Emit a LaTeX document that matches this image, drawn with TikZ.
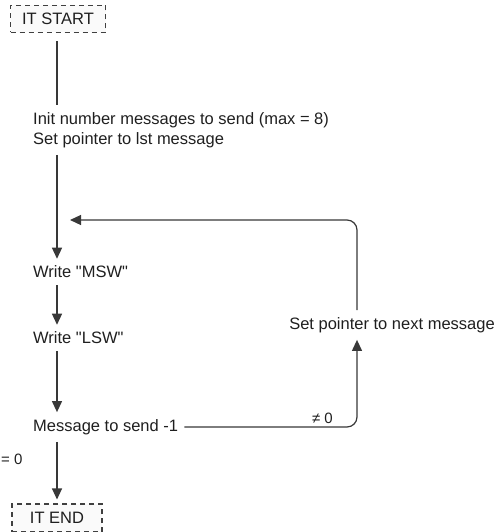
\documentclass[tikz,border=0pt]{standalone}
\usepackage{fontspec}
\setmainfont{Liberation Sans}
\usetikzlibrary{arrows.meta}

\begin{document}
\begin{tikzpicture}[x=1pt, y=-1pt,
  >={Triangle[length=11pt,width=10pt]},
  font=\fontsize{16.5}{20}\selectfont,
  term/.style={draw=black!75, dash pattern=on 5pt off 4pt, line width=1.1pt, fill=black!2,
               minimum width=95pt, minimum height=27pt, inner sep=2pt, text=black!88},
  txt/.style={anchor=west, align=left, inner xsep=0pt, inner ysep=7pt, text=black!88},
  ln/.style={draw=black!78, line width=1.2pt},
  e/.style={ln, ->},
  lbl/.style={font=\fontsize{15}{17}\selectfont, inner sep=3pt, text=black!88},
]
\useasboundingbox (0,0) rectangle (503,532);

\node[term] (start) at (58,19) {IT START};
\node[txt]  (init)  at (33,130) {Init number messages to send (max = 8)\\Set pointer to lst message};
\node[txt]  (msw)   at (33,272) {Write \textquotedbl MSW\textquotedbl};
\node[txt]  (lsw)   at (33,338) {Write \textquotedbl LSW\textquotedbl};
\node[txt]  (msg)   at (33,427) {Message to send -1};
\node[txt, anchor=center] (next) at (392,325) {Set pointer to next message};
\node[term, minimum width=90pt, minimum height=28pt] (end) at (57,518) {IT END};
\node[lbl, anchor=west, inner xsep=0pt] (eqz) at (1,459) {= 0};
\coordinate (axis) at (57,0);
\coordinate (col)  at (357,220);
\coordinate (back) at (70,220);

\draw[ln, shorten <=8pt] (start.south -| axis) -- (init.north -| axis);
\draw[e] (init.south -| axis) -- (msw.north -| axis);
\draw[e] (msw.south -| axis) -- (lsw.north -| axis);
\draw[e] (lsw.south -| axis) -- (msg.north -| axis);
\draw[e, shorten >=4pt] (msg.south -| end) -- (end.north);
% loop back to the next message
\draw[e, rounded corners=10pt] ([xshift=6pt]msg.east) -| (next.south -| col)
  node[lbl, pos=0.4, above] {≠ 0};
\draw[e, rounded corners=10pt] (next.north -| col) |- (back);
\end{tikzpicture}
\end{document}
